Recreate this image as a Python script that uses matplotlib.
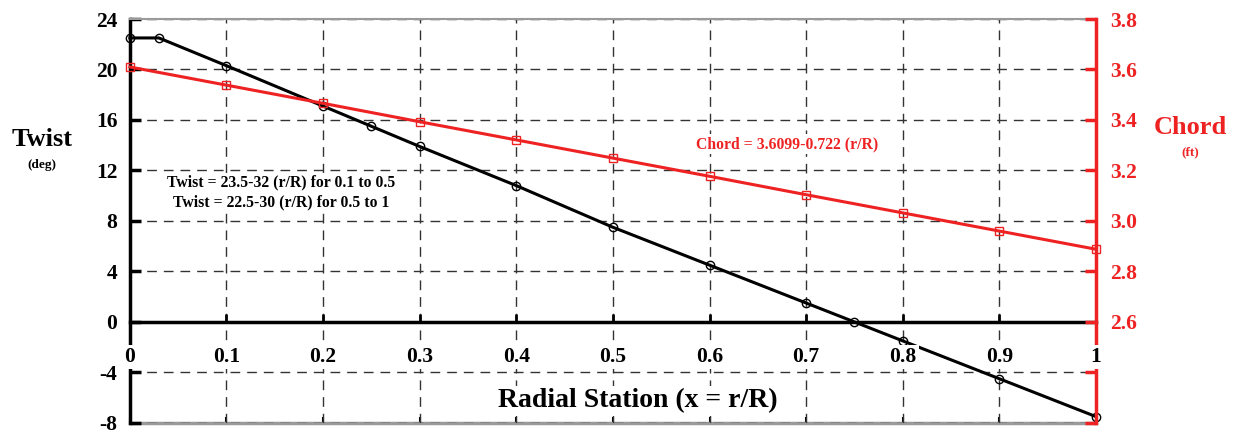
import matplotlib
matplotlib.use("Agg")
import matplotlib.pyplot as plt
import numpy as np

# twist distribution (deg) vs radial station
twist_x = [0.0, 0.03, 0.1, 0.2, 0.25, 0.3, 0.4, 0.5, 0.6, 0.7, 0.75, 0.8, 0.9, 1.0]
twist_y = [22.5, 22.5, 20.3, 17.1, 15.5, 13.9, 10.8, 7.5, 4.5, 1.5, 0.0, -1.5, -4.5, -7.5]

# chord distribution (ft)
chord_x = [0.0, 0.1, 0.2, 0.3, 0.4, 0.5, 0.6, 0.7, 0.8, 0.9, 1.0]
chord_y = [3.61, 3.538, 3.466, 3.393, 3.321, 3.249, 3.177, 3.104, 3.032, 2.96, 2.888]

x_ticks = [0, 0.1, 0.2, 0.3, 0.4, 0.5, 0.6, 0.7, 0.8, 0.9, 1]
x_labels = ["0", "0.1", "0.2", "0.3", "0.4", "0.5", "0.6", "0.7", "0.8", "0.9", "1"]
twist_ticks = [-8, -4, 0, 4, 8, 12, 16, 20, 24]
chord_ticks = [2.2, 2.4, 2.6, 2.8, 3.0, 3.2, 3.4, 3.6, 3.8]
chord_labels = ["", "", "2.6", "2.8", "3.0", "3.2", "3.4", "3.6", "3.8"]

RED = "#ee2222"
WHITE_BOX = dict(facecolor="white", edgecolor="none", pad=1.5)

plt.rcParams.update({
    "font.family": ["Liberation Serif", "DejaVu Serif"],
    "font.weight": "bold",
    "axes.unicode_minus": False,
})

fig = plt.figure(figsize=(12.37, 4.32), dpi=100)
ax = fig.add_axes([0.105, 0.021, 0.781, 0.935])
ax.set_xlim(0, 1)
ax.set_ylim(-8, 24)
ax.set_axisbelow(True)
ax.grid(True, ls=(0, (7, 5)), color="#333333", lw=1.0)

# frame: x axis sits on twist = 0
ax.spines["bottom"].set_position(("data", 0))
ax.spines["bottom"].set_linewidth(2.5)
ax.spines["left"].set_linewidth(2.5)
ax.spines["top"].set_color("#9a9a9a")
ax.spines["top"].set_linewidth(1.5)
ax.spines["right"].set_visible(False)

ax.set_xticks(x_ticks)
ax.set_yticks(twist_ticks)
ax.tick_params(axis="x", direction="in", length=6, width=2, labelbottom=False)
ax.tick_params(axis="y", direction="in", length=8, width=2.5, labelsize=15.5, pad=9)

# bottom frame line with small ticks
bottom = ax.secondary_xaxis(0.0)
bottom.set_xticks(x_ticks)
bottom.tick_params(direction="in", length=4, width=1.5, labelbottom=False)
bottom.spines["bottom"].set_color("#9a9a9a")
bottom.spines["bottom"].set_linewidth(2.5)

ax.plot(twist_x, twist_y, color="black", lw=2.2, marker="o", ms=6, mfc="none",
        mec="black", mew=1.0, clip_on=False, zorder=4)

ax2 = ax.twinx()
ax2.set_ylim(2.2, 3.8)
for side in ["top", "bottom", "left"]:
    ax2.spines[side].set_visible(False)
ax2.spines["right"].set_color(RED)
ax2.spines["right"].set_linewidth(2.5)
ax2.set_yticks(chord_ticks)
ax2.set_yticklabels(chord_labels)
ax2.tick_params(axis="y", direction="in", length=8, width=2.5, colors=RED,
                labelcolor=RED, labelsize=15.5, pad=10)
ax2.plot(chord_x, chord_y, color=RED, lw=2.2, marker="s", ms=6, mfc="none",
         mec=RED, mew=1.0, clip_on=False, zorder=4)

# x tick labels with white backing, drawn above both axes
for xt, lab in zip(x_ticks, x_labels):
    ax2.text(xt, -2.8, lab, transform=ax.transData, ha="center", va="center",
             fontsize=15.5, fontweight="bold", zorder=10, bbox=WHITE_BOX)

ax2.text(0.157, 10.25, "Twist = 23.5-32 (r/R) for 0.1 to 0.5\nTwist = 22.5-30 (r/R) for 0.5 to 1",
         transform=ax.transData, ha="center", va="center", fontsize=11.3,
         linespacing=1.3, bbox=WHITE_BOX, zorder=3)
ax2.text(0.68, 14.1, "Chord = 3.6099-0.722 (r/R)", transform=ax.transData,
         ha="center", va="center", fontsize=11.3, color=RED, bbox=WHITE_BOX, zorder=3)
ax2.text(0.526, -6.25, "Radial Station (x = r/R)", transform=ax.transData,
         ha="center", va="center", fontsize=20, bbox=dict(facecolor="white", edgecolor="none", pad=2),
         zorder=3)

fig.text(0.034, 0.676, "Twist", ha="center", va="center", fontsize=19, fontweight="bold")
fig.text(0.034, 0.618, "(deg)", ha="center", va="center", fontsize=9.5, fontweight="bold")
fig.text(0.962, 0.704, "Chord", ha="center", va="center", fontsize=19, fontweight="bold", color=RED)
fig.text(0.962, 0.648, "(ft)", ha="center", va="center", fontsize=9.5, fontweight="bold", color=RED)

fig.savefig("out.png", dpi=100)
